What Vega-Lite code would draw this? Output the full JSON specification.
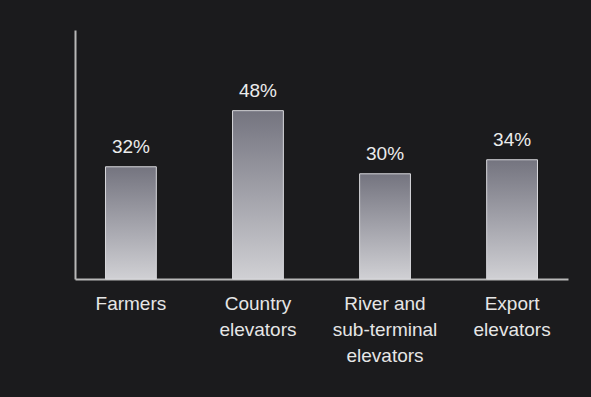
{
  "$schema": "https://vega.github.io/schema/vega-lite/v6.json",
  "autosize": "none",
  "width": 493,
  "height": 249,
  "padding": {"left": 75, "top": 30, "right": 23, "bottom": 118},
  "background": "#1b1b1d",
  "config": {
    "view": {"stroke": null},
    "font": "Liberation Sans"
  },
  "data": {
    "values": [
      {"group": "Farmers", "share": 32, "label": "32%"},
      {"group": "Country|elevators", "share": 48, "label": "48%"},
      {"group": "River and|sub-terminal|elevators", "share": 30, "label": "30%"},
      {"group": "Export|elevators", "share": 34, "label": "34%"}
    ]
  },
  "encoding": {
    "x": {
      "field": "group",
      "type": "nominal",
      "sort": null,
      "scale": {"paddingInner": 0.6, "paddingOuter": 0.24},
      "axis": {
        "title": null,
        "labelAngle": 0,
        "labelExpr": "split(datum.label, '|')",
        "labelFontSize": 19,
        "labelColor": "#e6e6e6",
        "labelLineHeight": 26,
        "labelPadding": 15,
        "labelBaseline": "top",
        "ticks": false,
        "domainColor": "#b8b8b8",
        "domainWidth": 2
      }
    },
    "y": {
      "field": "share",
      "type": "quantitative",
      "scale": {"domain": [0, 71], "nice": false},
      "axis": {
        "title": null,
        "labels": false,
        "ticks": false,
        "grid": false,
        "domainColor": "#b8b8b8",
        "domainWidth": 2
      }
    }
  },
  "layer": [
    {
      "mark": {
        "type": "bar",
        "stroke": "#d8d8dc",
        "strokeWidth": 1,
        "color": {
          "gradient": "linear",
          "x1": 0, "y1": 0, "x2": 0, "y2": 1,
          "stops": [
            {"offset": 0, "color": "#74747f"},
            {"offset": 0.5, "color": "#a2a2aa"},
            {"offset": 1, "color": "#d0d0d4"}
          ]
        }
      }
    },
    {
      "mark": {"type": "text", "baseline": "alphabetic", "dy": -14, "fontSize": 19, "color": "#ececec"},
      "encoding": {
        "text": {"field": "label", "type": "nominal"}
      }
    }
  ]
}
